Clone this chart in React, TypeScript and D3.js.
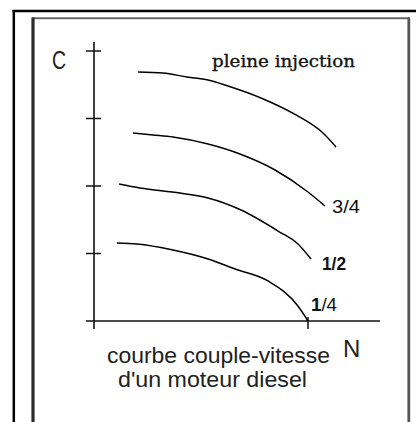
import React from "react";
import * as d3 from "d3";

const W = 416;
const H = 422;

// Curves: [N, C] in data units (N: speed, C: torque)
const curvePleine: [number, number][] = [
  [0.206, 3.689], [0.322, 3.674], [0.435, 3.615], [0.533, 3.57], [0.626, 3.481],
  [0.78, 3.304], [0.944, 3.052], [1.07, 2.785], [1.131, 2.578],
];
const curveTroisQuarts: [number, number][] = [
  [0.182, 2.785], [0.276, 2.756], [0.369, 2.726], [0.533, 2.622], [0.682, 2.474],
  [0.846, 2.237], [1.0, 1.911], [1.079, 1.704],
];
const curveDemi: [number, number][] = [
  [0.117, 2.03], [0.215, 1.97], [0.402, 1.896], [0.533, 1.822], [0.687, 1.644],
  [0.86, 1.333], [0.953, 1.141], [1.014, 0.919],
];
const curveQuart: [number, number][] = [
  [0.107, 1.156], [0.201, 1.141], [0.369, 1.052], [0.533, 0.919], [0.659, 0.77],
  [0.813, 0.593], [0.953, 0.222], [1.0, 0.0],
];

const yTicks = [1, 2, 3, 4];
const xTicks = [1];

const title = "pleine injection";
const captionLines = ["courbe couple-vitesse", "d'un moteur diesel"];
const yLabel = "C";
const xLabel = "N";

export default function App() {
  const x = d3.scaleLinear().domain([0, 1]).range([94, 308]);
  const y = d3.scaleLinear().domain([0, 4]).range([321, 51]);
  const line = d3
    .line<[number, number]>()
    .x((d) => x(d[0]))
    .y((d) => y(d[1]))
    .curve(d3.curveMonotoneX);

  const curves = [curvePleine, curveTroisQuarts, curveDemi, curveQuart];
  const x0 = x(0);
  const y0 = y(0);

  return (
    <svg
      width={W}
      height={H}
      style={{ position: "absolute", left: 0, top: 0, background: "#fff" }}
    >
      <rect x={0} y={0} width={W} height={H} fill="#fff" />
      {/* outer frame */}
      <line x1={12.5} y1={11} x2={W} y2={11} stroke="#000" strokeWidth={2.5} />
      <line x1={13.8} y1={10} x2={13.8} y2={H} stroke="#000" strokeWidth={2.5} />
      {/* inner frame */}
      <line x1={32} y1={18.3} x2={410} y2={18.3} stroke="#666" strokeWidth={2} />
      <line x1={33} y1={17.5} x2={33} y2={H} stroke="#2b2b2b" strokeWidth={3.2} />
      <line x1={408.8} y1={17.5} x2={408.8} y2={H} stroke="#555" strokeWidth={2.8} />

      {/* axes */}
      <line x1={x0} y1={42} x2={x0} y2={y0 + 8} stroke="#111" strokeWidth={1.6} />
      <line x1={x0 - 8} y1={y0} x2={380} y2={y0} stroke="#111" strokeWidth={1.6} />
      {yTicks.map((t) => (
        <line key={t} x1={x0 - 8} x2={x0 + 7} y1={y(t)} y2={y(t)} stroke="#111" strokeWidth={1.5} />
      ))}
      {xTicks.map((t) => (
        <line key={t} x1={x(t)} x2={x(t)} y1={y0 - 4} y2={y0 + 8} stroke="#111" strokeWidth={1.5} />
      ))}

      {/* curves */}
      {curves.map((c, i) => (
        <path key={i} d={line(c) || ""} fill="none" stroke="#000" strokeWidth={1.45} />
      ))}

      {/* labels */}
      <text
        x={52}
        y={69}
        fontFamily="Liberation Sans, Arial, sans-serif"
        fontSize={25}
        fill="#222"
        transform="translate(52,0) scale(0.78,1) translate(-52,0)"
      >
        {yLabel}
      </text>
      <text x={343} y={357} fontFamily="Liberation Sans, Arial, sans-serif" fontSize={24} fill="#222">
        {xLabel}
      </text>
      <text
        x={212}
        y={67}
        fontFamily="DejaVu Serif, serif"
        fontSize={17.5}
        textLength={143}
        lengthAdjust="spacingAndGlyphs"
        fill="#111"
        stroke="#111"
        strokeWidth={0.35}
      >
        {title}
      </text>
      <text x={332} y={213} fontFamily="Liberation Sans, Arial, sans-serif" fontSize={18} fill="#111" textLength={28} lengthAdjust="spacingAndGlyphs">
        3/4
      </text>
      <text x={322} y={270} fontFamily="Liberation Sans, Arial, sans-serif" fontSize={18} fontWeight="bold" fill="#111" textLength={24} lengthAdjust="spacingAndGlyphs">
        1/2
      </text>
      <text x={311} y={311} fontFamily="Liberation Sans, Arial, sans-serif" fontSize={18} fill="#111" textLength={26} lengthAdjust="spacingAndGlyphs">
        <tspan fontWeight="bold">1</tspan>/4
      </text>
      {captionLines.map((s, i) => (
        <text
          key={i}
          x={i === 0 ? 107 : 118}
          y={363 + i * 24}
          fontFamily="Liberation Sans, Arial, sans-serif"
          fontSize={22}
          fill="#222"
          textLength={i === 0 ? 223 : 189}
          lengthAdjust="spacingAndGlyphs"
        >
          {s}
        </text>
      ))}
    </svg>
  );
}
